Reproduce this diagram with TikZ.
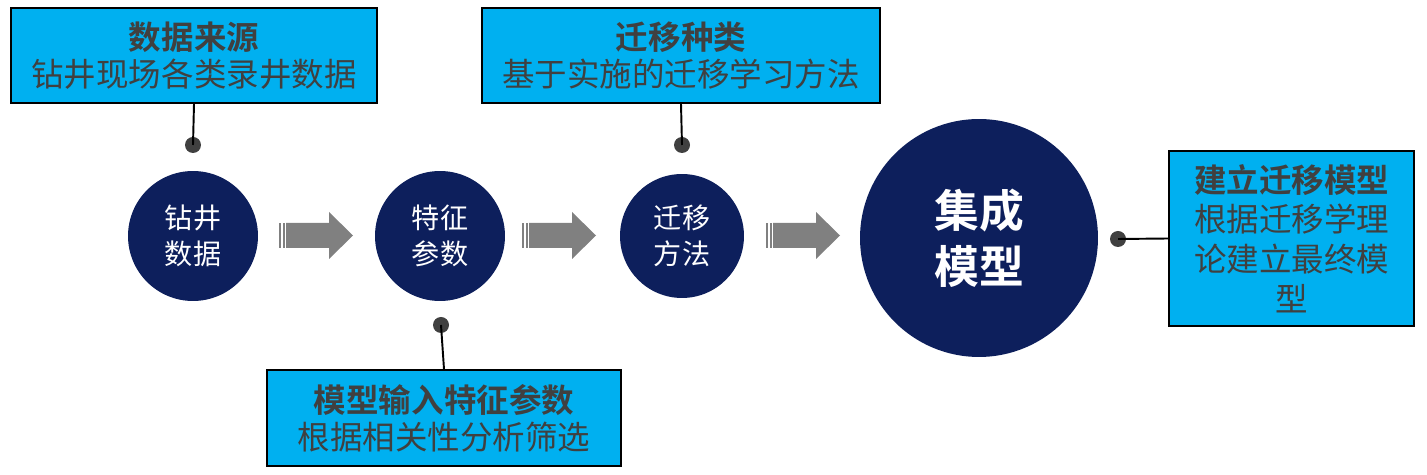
\documentclass[tikz,border=0pt]{standalone}
\usepackage{fontspec}
\setmainfont{Noto Sans CJK SC}[BoldFont={Noto Sans CJK SC Bold}]
\usepackage{tikz}
\usetikzlibrary{positioning}
\definecolor{navy}{RGB}{13,31,92}
\definecolor{skyblue}{RGB}{0,176,240}
\definecolor{textgray}{RGB}{64,64,64}
\definecolor{arrowgray}{RGB}{128,128,128}

\begin{document}
\begin{tikzpicture}[x=0.02cm, y=-0.02cm,
    infobox/.style={draw=black, line width=1.1pt, fill=skyblue, text=textgray, align=center, inner sep=0pt, font=\fontsize{18.5}{21}\selectfont},
    stage/.style={circle, fill=navy, text=white, align=center, inner sep=0pt, font=\fontsize{16}{20.5}\selectfont},
    pin/.style={circle, fill=textgray, minimum size=0.32cm, inner sep=0pt},
    link/.style={line width=1.1pt, black}]
    \useasboundingbox (0,0) rectangle (1427,475);

    % Stages
    \node[stage, minimum size=2.6cm] (drill) at (193,236) {钻井\\数据};
    \node[stage, minimum size=2.6cm] (feat) at (440,236) {特征\\参数};
    \node[stage, minimum size=2.48cm] (method) at (682,236) {迁移\\方法};
    \node[stage, minimum size=4.76cm, font=\fontsize{25.5}{32}\selectfont\bfseries] (ensemble) at (979,238) {集成\\模型};

    % Info boxes
    \node[infobox, minimum width=7.32cm, minimum height=1.9cm] (source) at (194,55.5) {\textbf{数据来源}\\钻井现场各类录井数据};
    \node[infobox, minimum width=7.96cm, minimum height=1.9cm] (kind) at (681,55.5) {\textbf{迁移种类}\\基于实施的迁移学习方法};
    \node[infobox, minimum width=7.08cm, minimum height=1.92cm] (input) at (444,418) {\textbf{模型输入特征参数}\\根据相关性分析筛选};
    \node[infobox, minimum width=4.9cm, minimum height=3.5cm, font=\fontsize{18.5}{22.5}\selectfont] (build) at (1291.5,238.5) {\textbf{建立迁移模型}\\根据迁移学理\\论建立最终模\\型};

    % Pins
    \node[pin] (p1) at (193,145) {};
    \node[pin] (p2) at (441,325) {};
    \node[pin] (p3) at (682,145) {};
    \node[pin] (p4) at (1118,239) {};
    \draw[link] (p1.center) -- (source.south);
    \draw[link] (p2.center) -- (input.north);
    \draw[link] (p3.center) -- (kind.south);
    \draw[link] (p4.center) -- (build.west);

    % Block arrows
    \foreach \ax in {279,522,766} {
      \begin{scope}[shift={(\ax,235.5)}]
        \fill[arrowgray] (0,-12.5) rectangle (2,12.5);
        \fill[arrowgray] (4,-12.5) rectangle (6,12.5);
        \fill[arrowgray] (7,-12.5) -- (50,-12.5) -- (50,-23.5) -- (74,0) -- (50,23.5) -- (50,12.5) -- (7,12.5) -- cycle;
      \end{scope}
    }
\end{tikzpicture}
\end{document}
